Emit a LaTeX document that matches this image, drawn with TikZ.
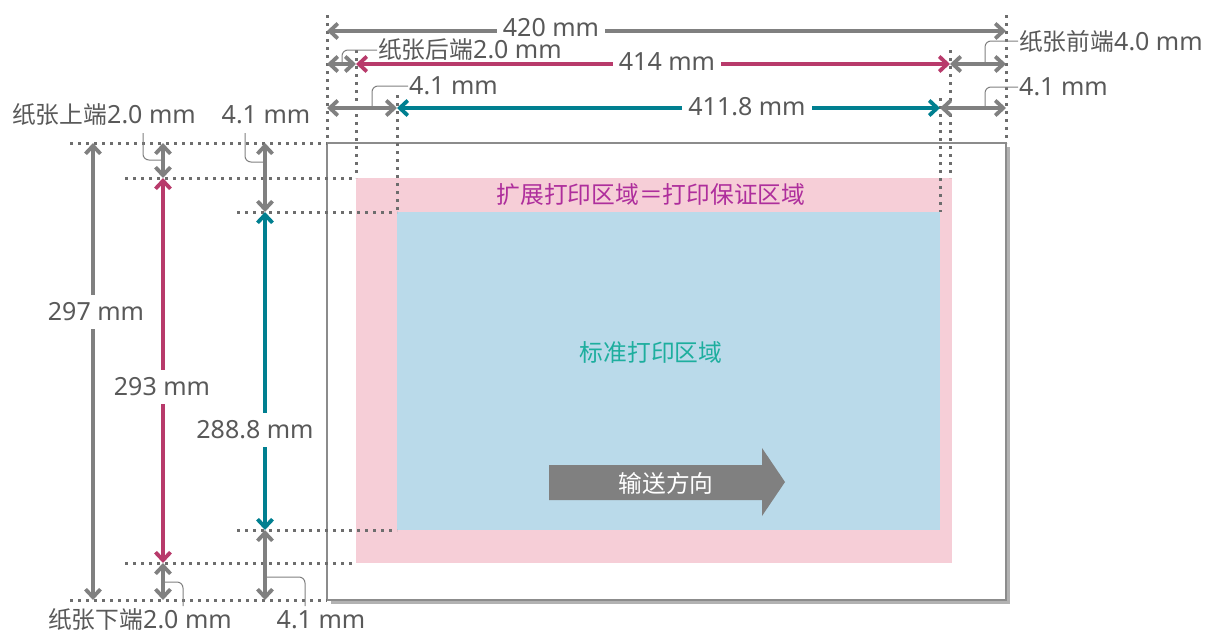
\documentclass[tikz,border=0pt]{standalone}
\usepackage{fontspec}
\setmainfont{Noto Sans}
\newfontfamily\cjk[Scale=0.95]{Noto Sans CJK SC}
\usetikzlibrary{arrows.meta,shadows}

\definecolor{dimgray}{HTML}{808080}
\definecolor{pinkline}{HTML}{B83A6B}
\definecolor{tealline}{HTML}{007F90}
\definecolor{pinkarea}{HTML}{F6CED7}
\definecolor{bluearea}{HTML}{BADAEA}
\definecolor{magtext}{HTML}{AE2E9C}
\definecolor{tealtext}{HTML}{1DAE9E}
\definecolor{lbltext}{HTML}{595959}
\definecolor{papercol}{HTML}{8C8C8C}

\tikzset{
  dim/.style={line width=3.8pt, arrows={Straight Barb[length=8pt,width=15pt]-Straight Barb[length=8pt,width=15pt]}},
  guide/.style={draw=dimgray!85!black, line width=3pt, dash pattern=on 3pt off 5pt},
  leader/.style={draw=dimgray, line width=1pt, rounded corners=6pt},
  lbl/.style={font=\fontsize{25}{30}\selectfont, text=lbltext, inner sep=1pt},
  dimlbl/.style={lbl, fill=white, inner xsep=6pt, inner ysep=0pt}
}

\begin{document}
\begin{tikzpicture}[x=1pt,y=-1pt]
  \useasboundingbox (0,0) rectangle (1211,635);

  % paper and print areas
  \draw[papercol, line width=1.5pt, fill=white,
    drop shadow={shadow xshift=4pt, shadow yshift=-4pt, opacity=0.3, fill=black}]
    (327,143) rectangle (1006,600);
  \fill[pinkarea] (356,178) rectangle (952,563);
  \fill[bluearea] (397,212) rectangle (940,530);

  \node[font=\cjk\fontsize{25}{30}\selectfont, text=magtext] (extarea) at (651,195) {扩展打印区域＝打印保证区域};
  \node[font=\cjk\fontsize{25}{30}\selectfont, text=tealtext] (stdarea) at (651,352) {标准打印区域};

  % feed direction
  \fill[dimgray] (549,465) -- (762,465) -- (762,448) -- (785,482)
    -- (762,516) -- (762,500) -- (549,500) -- cycle;
  \node[font=\cjk\fontsize{25}{30}\selectfont, text=white] (feed) at (666,483) {输送方向};

  % extension lines
  \draw[guide] (327,15) -- (327,143);
  \draw[guide] (356,50) -- (356,178);
  \draw[guide] (397,95) -- (397,212);
  \draw[guide] (940,98) -- (940,212);
  \draw[guide] (950,50) -- (950,178);
  \draw[guide] (1006,15) -- (1006,143);
  \draw[guide] (70,143) -- (327,143);
  \draw[guide] (125,178) -- (356,178);
  \draw[guide] (237,212) -- (397,212);
  \draw[guide] (237,530) -- (397,530);
  \draw[guide] (125,563) -- (356,563);
  \draw[guide] (70,600) -- (327,600);

  % horizontal dimensions
  \coordinate (a1) at (327,31);  \coordinate (a2) at (1006,31);
  \coordinate (b1) at (327,64);  \coordinate (b2) at (356,64);
  \coordinate (b3) at (950,64);  \coordinate (b4) at (1006,64);
  \coordinate (c1) at (327,108); \coordinate (c2) at (397,108);
  \coordinate (c3) at (940,108); \coordinate (c4) at (1006,108);

  \draw[dim, dimgray] (a1) -- (a2);
  \node[dimlbl, text depth=0pt, anchor=base] (w420) at (551,36) {420 mm};
  \draw[dim, dimgray] (b1) -- (b2);
  \draw[dim, pinkline] (b2) -- (b3);
  \node[dimlbl] (w414) at (667,62) {414 mm};
  \draw[dim, dimgray] (b3) -- (b4);
  \draw[dim, dimgray] (c1) -- (c2);
  \draw[dim, tealline] (c2) -- (c3);
  \node[dimlbl] (w4118) at (747,107) {411.8 mm};
  \draw[dim, dimgray] (c3) -- (c4);

  \node[lbl, anchor=west] (rear) at (377,50) {{\cjk 纸张后端}2.0 mm};
  \node[lbl, anchor=west] (rearmin) at (408,86) {4.1 mm};
  \node[lbl, anchor=west] (front) at (1018,41) {{\cjk 纸张前端}4.0 mm};
  \node[lbl, anchor=west] (frontmin) at (1018,87) {4.1 mm};
  \draw[leader] (342,64) |- (rear.west);
  \draw[leader] (372,108) |- (rearmin.west);
  \draw[leader] (985,64) |- (front.west);
  \draw[leader] (985,108) |- (frontmin.west);

  % vertical dimensions
  \coordinate (d1) at (93,143);  \coordinate (d2) at (93,600);
  \coordinate (e1) at (163,143); \coordinate (e2) at (163,178);
  \coordinate (e3) at (163,563); \coordinate (e4) at (163,600);
  \coordinate (f1) at (265,143); \coordinate (f2) at (265,212);
  \coordinate (f3) at (265,530); \coordinate (f4) at (265,600);

  \draw[dim, dimgray] (d1) -- (d2);
  \node[dimlbl, inner ysep=8pt] (h297) at (96,312) {297 mm};
  \draw[dim, dimgray] (e1) -- (e2);
  \draw[dim, pinkline] (e2) -- (e3);
  \node[dimlbl, inner ysep=8pt] (h293) at (162,387) {293 mm};
  \draw[dim, dimgray] (e3) -- (e4);
  \draw[dim, dimgray] (f1) -- (f2);
  \draw[dim, tealline] (f2) -- (f3);
  \node[dimlbl, inner ysep=8pt] (h2888) at (255,430) {288.8 mm};
  \draw[dim, dimgray] (f3) -- (f4);

  \node[lbl] (top) at (104,115) {{\cjk 纸张上端}2.0 mm};
  \node[lbl] (topmin) at (266,115) {4.1 mm};
  \node[lbl, inner sep=0pt] (bottom) at (140,620) {{\cjk 纸张下端}2.0 mm};
  \node[lbl, inner sep=0pt] (bottommin) at (321,620) {4.1 mm};
  \draw[leader] (163,160) -| (143,133);
  \draw[leader] (265,162) -| (245,133);
  \draw[leader] (163,582) -| (183,606);
  \draw[leader] (265,577) -| (305,606);

\end{tikzpicture}
\end{document}
